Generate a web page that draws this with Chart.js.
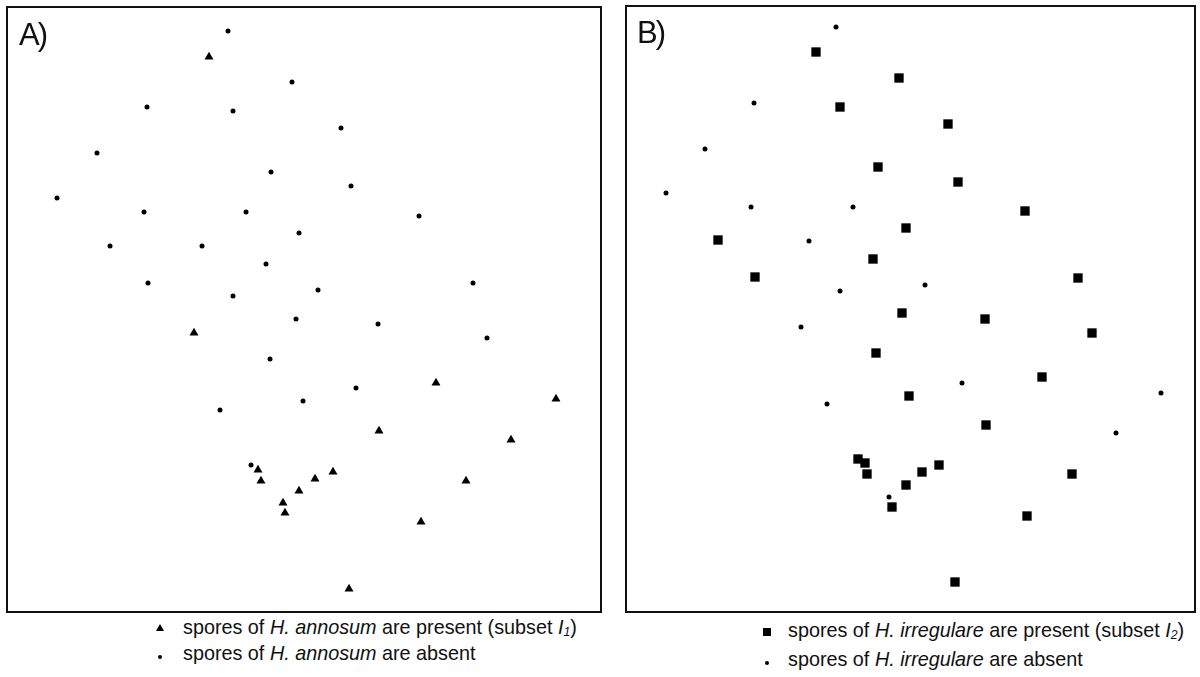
<!DOCTYPE html>
<html>
<head>
<meta charset="utf-8">
<script src="https://cdn.jsdelivr.net/npm/chart.js@4.4.1/dist/chart.umd.min.js"></script>
<style>
  html, body { margin: 0; padding: 0; background: #fff; }
  body { width: 1200px; height: 677px; position: relative; overflow: hidden;
         font-family: "Liberation Sans", Arial, sans-serif; color: #111; }
  .panel { position: absolute; }
  .panel canvas { display: block; }
  .tag { position: absolute; font-size: 31px; line-height: 1; letter-spacing: -2px; color: #111; }
  .leg { position: absolute; font-size: 19.8px; line-height: 1; white-space: nowrap; }
  .leg sub { font-size: 0.62em; vertical-align: -0.15em; font-style: italic; }
  .mk { position: absolute; background: #000; }
  .tri { position: absolute; width: 0; height: 0; border-left: 4px solid transparent;
         border-right: 4px solid transparent; border-bottom: 7px solid #000; }
</style>
</head>
<body>
<div class="panel" id="boxA" style="left:6px;top:6px;"><canvas id="chartA" width="596" height="607"></canvas></div>
<div class="panel" id="boxB" style="left:625px;top:5px;"><canvas id="chartB" width="571" height="608"></canvas></div>
<div class="tag" style="left:19px;top:19px;">A)</div>
<div class="tag" style="left:637px;top:17px;">B)</div>

<div class="tri" style="left:156px;top:624px;"></div>
<div class="leg" style="left:183px;top:618px;">spores of <i>H. annosum</i> are present (subset <i>I</i><sub>1</sub>)</div>
<div class="mk" style="left:158px;top:655px;width:4px;height:4px;border-radius:50%;"></div>
<div class="leg" style="left:183px;top:644px;">spores of <i>H. annosum</i> are absent</div>

<div class="mk" style="left:763px;top:628px;width:7.5px;height:7.5px;"></div>
<div class="leg" style="left:788px;top:621px;">spores of <i>H. irregulare</i> are present (subset <i>I</i><sub>2</sub>)</div>
<div class="mk" style="left:765px;top:661px;width:4px;height:4px;border-radius:50%;"></div>
<div class="leg" style="left:788px;top:650px;">spores of <i>H. irregulare</i> are absent</div>

<script>
// Panel A: sampling sites, positions in plot units (x right, y down from frame corner)
const annosumPresentX = [203, 188, 430, 550, 373, 505, 252, 327, 255, 309, 460, 293, 277, 279, 415, 343];
const annosumPresentY = [51, 327, 377, 393, 425, 434, 464, 466, 475, 473, 475, 485, 497, 507, 516, 583];
const annosumAbsentX = [222, 286, 141, 227, 335, 91, 265, 345, 51, 138, 240, 413, 293, 104,
                        196, 260, 142, 467, 312, 227, 290, 372, 481, 264, 350, 297, 214, 245];
const annosumAbsentY = [25, 76, 101, 105, 122, 147, 166, 180, 192, 206, 206, 210, 227, 240,
                        240, 258, 277, 277, 284, 290, 313, 318, 332, 353, 382, 395, 404, 459];

// Panel B
const irregularePresentX = [191, 274, 215, 323, 253, 333, 400, 281, 93, 248, 130, 453, 277, 360, 467,
                            251, 417, 284, 361, 233, 240, 242, 314, 297, 447, 281, 267, 402, 330];
const irregularePresentY = [47, 73, 102, 119, 162, 177, 206, 223, 235, 254, 272, 273, 308, 314, 328,
                            348, 372, 391, 420, 454, 458, 469, 460, 467, 469, 480, 502, 511, 577];
const irregulareAbsentX = [211, 129, 80, 41, 126, 228, 184, 300, 215, 176, 337, 202, 536, 491, 264];
const irregulareAbsentY = [22, 98, 144, 188, 202, 202, 236, 280, 286, 322, 378, 399, 388, 428, 492];

const toPoints = (xs, ys) => xs.map((x, i) => ({ x: x, y: ys[i] }));

// frame around the plot area
const frame = {
  id: 'frame',
  afterDraw(chart) {
    const { ctx, chartArea: a } = chart;
    ctx.save();
    ctx.strokeStyle = '#111';
    ctx.lineWidth = 2;
    ctx.strokeRect(a.left + 1, a.top + 1, a.width - 2, a.height - 2);
    ctx.restore();
  }
};

function drawPanel(id, w, h, datasets) {
  return new Chart(document.getElementById(id), {
    type: 'scatter',
    data: { datasets: datasets },
    options: {
      responsive: false,
      animation: false,
      events: [],
      layout: { padding: 0, autoPadding: false },
      plugins: { legend: { display: false }, tooltip: { enabled: false } },
      scales: {
        x: { display: false, min: 0, max: w },
        y: { display: false, min: 0, max: h, reverse: true }
      }
    },
    plugins: [frame]
  });
}

drawPanel('chartA', 596, 607, [
  {
    label: 'spores of H. annosum are present (subset I1)',
    data: toPoints(annosumPresentX, annosumPresentY),
    pointStyle: 'triangle', pointRadius: 5.2, backgroundColor: '#000', borderWidth: 0
  },
  {
    label: 'spores of H. annosum are absent',
    data: toPoints(annosumAbsentX, annosumAbsentY),
    pointStyle: 'circle', pointRadius: 2.5, backgroundColor: '#000', borderWidth: 0
  }
]);

drawPanel('chartB', 571, 608, [
  {
    label: 'spores of H. irregulare are present (subset I2)',
    data: toPoints(irregularePresentX, irregularePresentY),
    pointStyle: 'rect', pointRadius: 6.6, backgroundColor: '#000', borderWidth: 0
  },
  {
    label: 'spores of H. irregulare are absent',
    data: toPoints(irregulareAbsentX, irregulareAbsentY),
    pointStyle: 'circle', pointRadius: 2.5, backgroundColor: '#000', borderWidth: 0
  }
]);
</script>
</body>
</html>
